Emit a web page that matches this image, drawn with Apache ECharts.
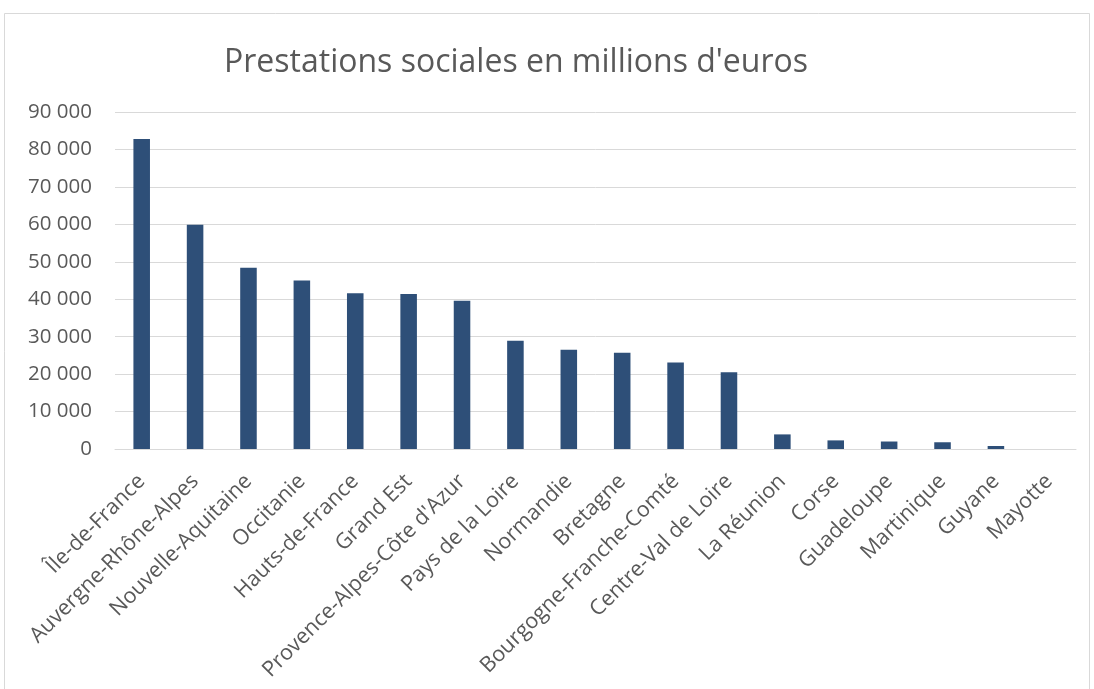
<!DOCTYPE html>
<html><head><meta charset="utf-8">
<script src="https://cdn.jsdelivr.net/npm/echarts@6/dist/echarts.min.js"></script>
<style>html,body{margin:0;padding:0;background:#fff}#c{width:1094px;height:689px}</style>
</head><body><div id="c"></div>
<script>
const titleText = "Prestations sociales en millions d'euros";
const categories = ["Île-de-France","Auvergne-Rhône-Alpes","Nouvelle-Aquitaine","Occitanie","Hauts-de-France","Grand Est","Provence-Alpes-Côte d'Azur","Pays de la Loire","Normandie","Bretagne","Bourgogne-Franche-Comté","Centre-Val de Loire","La Réunion","Corse","Guadeloupe","Martinique","Guyane","Mayotte"];
const values = [82800,59900,48400,45000,41600,41400,39600,28900,26500,25700,23100,20500,3900,2300,2000,1800,800,0];
const yMin = 0, yMax = 90000, yStep = 10000;

const chart = echarts.init(document.getElementById('c'), null, {renderer:'canvas'});
const font = '"Open Sans", sans-serif';
chart.setOption({
  animation:false,
  backgroundColor:'#fff',
  graphic:[{type:'rect',shape:{x:4.5,y:13.5,width:1085,height:690},style:{fill:'none',stroke:'#d9d9d9',lineWidth:1},silent:true}],
  title:{text:titleText,left:511,top:42,textAlign:'center',textStyle:{fontFamily:font,fontWeight:'normal',fontSize:32,color:'#595959'}},
  grid:{left:115,right:18,top:112,bottom:240,containLabel:false},
  xAxis:{type:'category',data:categories,
    axisLine:{lineStyle:{color:'#d9d9d9',width:1}},axisTick:{show:false},
    axisLabel:{rotate:45,interval:0,fontFamily:font,fontSize:21.5,color:'#595959',margin:29,padding:[22,0,0,0]}},
  yAxis:{type:'value',min:yMin,max:yMax,interval:yStep,
    axisLine:{show:false},axisTick:{show:false},
    splitLine:{lineStyle:{color:'#d9d9d9',width:1}},
    axisLabel:{fontFamily:font,fontSize:20.5,color:'#595959',margin:23,
      formatter:v=>String(v).replace(/\B(?=(\d{3})+(?!\d))/g,' ')}},
  series:[{type:'bar',data:values,barWidth:'31%',itemStyle:{color:'#2e4f78'}}]
});
</script></body></html>
